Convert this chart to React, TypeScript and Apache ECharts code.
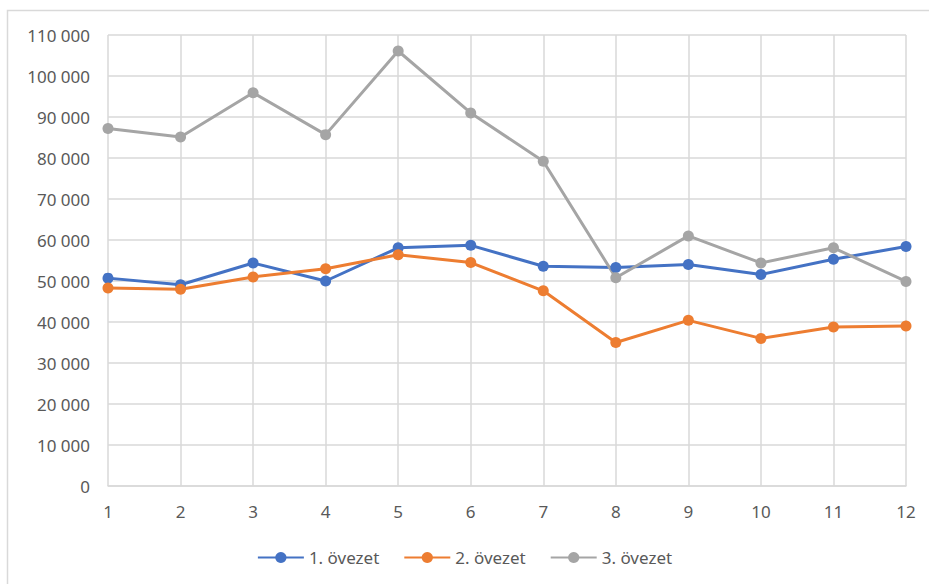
import React, { useEffect, useRef } from "react";
import * as echarts from "echarts";

const categories = ["1", "2", "3", "4", "5", "6", "7", "8", "9", "10", "11", "12"];
const seriesNames = ["1. övezet", "2. övezet", "3. övezet"];
const zone1 = [50700, 49100, 54400, 50000, 58100, 58700, 53600, 53300, 54000, 51600, 55300, 58400];
const zone2 = [48300, 48000, 51000, 53000, 56400, 54500, 47600, 35000, 40400, 36000, 38800, 39000];
const zone3 = [87200, 85100, 95900, 85700, 106100, 91000, 79200, 50800, 61000, 54400, 58100, 49900];
const colors = ["#4472C4", "#ED7D31", "#A5A5A5"];

const fmt = (v: number) => String(v).replace(/\B(?=(\d{3})+(?!\d))/g, " ");

export default function App() {
  const ref = useRef<HTMLDivElement>(null);
  useEffect(() => {
    if (!ref.current) return;
    const chart = echarts.init(ref.current, undefined, { renderer: "svg" });
    const font = "'Noto Sans', sans-serif";
    const data = [zone1, zone2, zone3];
    chart.setOption({
      animation: false,
      backgroundColor: "#ffffff",
      textStyle: { fontFamily: font },
      graphic: [
        {
          type: "rect",
          shape: { x: 7.5, y: 10.5, width: 1000, height: 1000 },
          style: { fill: "none", stroke: "#d9d9d9", lineWidth: 1.5 },
          silent: true,
        },
      ],
      grid: { left: 108, right: 23, top: 35, bottom: 98 },
      legend: {
        bottom: 13,
        left: "center",
        itemWidth: 46,
        itemHeight: 14,
        itemGap: 24,
        textStyle: { color: "#595959", fontSize: 17, fontFamily: font },
        data: seriesNames,
      },
      xAxis: {
        type: "category",
        data: categories,
        boundaryGap: false,
        axisLine: { show: true, lineStyle: { color: "#d9d9d9", width: 1.5 } },
        axisTick: { show: false },
        axisLabel: { color: "#595959", fontSize: 17, margin: 17, fontFamily: font },
        splitLine: { show: true, lineStyle: { color: "#d9d9d9", width: 1.5 } },
      },
      yAxis: {
        type: "value",
        min: 0,
        max: 110000,
        interval: 10000,
        axisLine: { show: false },
        axisTick: { show: false },
        axisLabel: { color: "#595959", fontSize: 17, margin: 18, fontFamily: font, formatter: (v: number) => fmt(v) },
        splitLine: { show: true, lineStyle: { color: "#d9d9d9", width: 1.5 } },
      },
      series: seriesNames.map((name, i) => ({
        name,
        type: "line",
        data: data[i],
        symbol: "circle",
        symbolSize: 11,
        color: colors[i],
        lineStyle: { width: 3, color: colors[i] },
        itemStyle: { color: colors[i] },
      })),
    });
    return () => chart.dispose();
  }, []);
  return <div ref={ref} style={{ position: "fixed", left: 0, top: 0, width: 929, height: 584 }} />;
}
